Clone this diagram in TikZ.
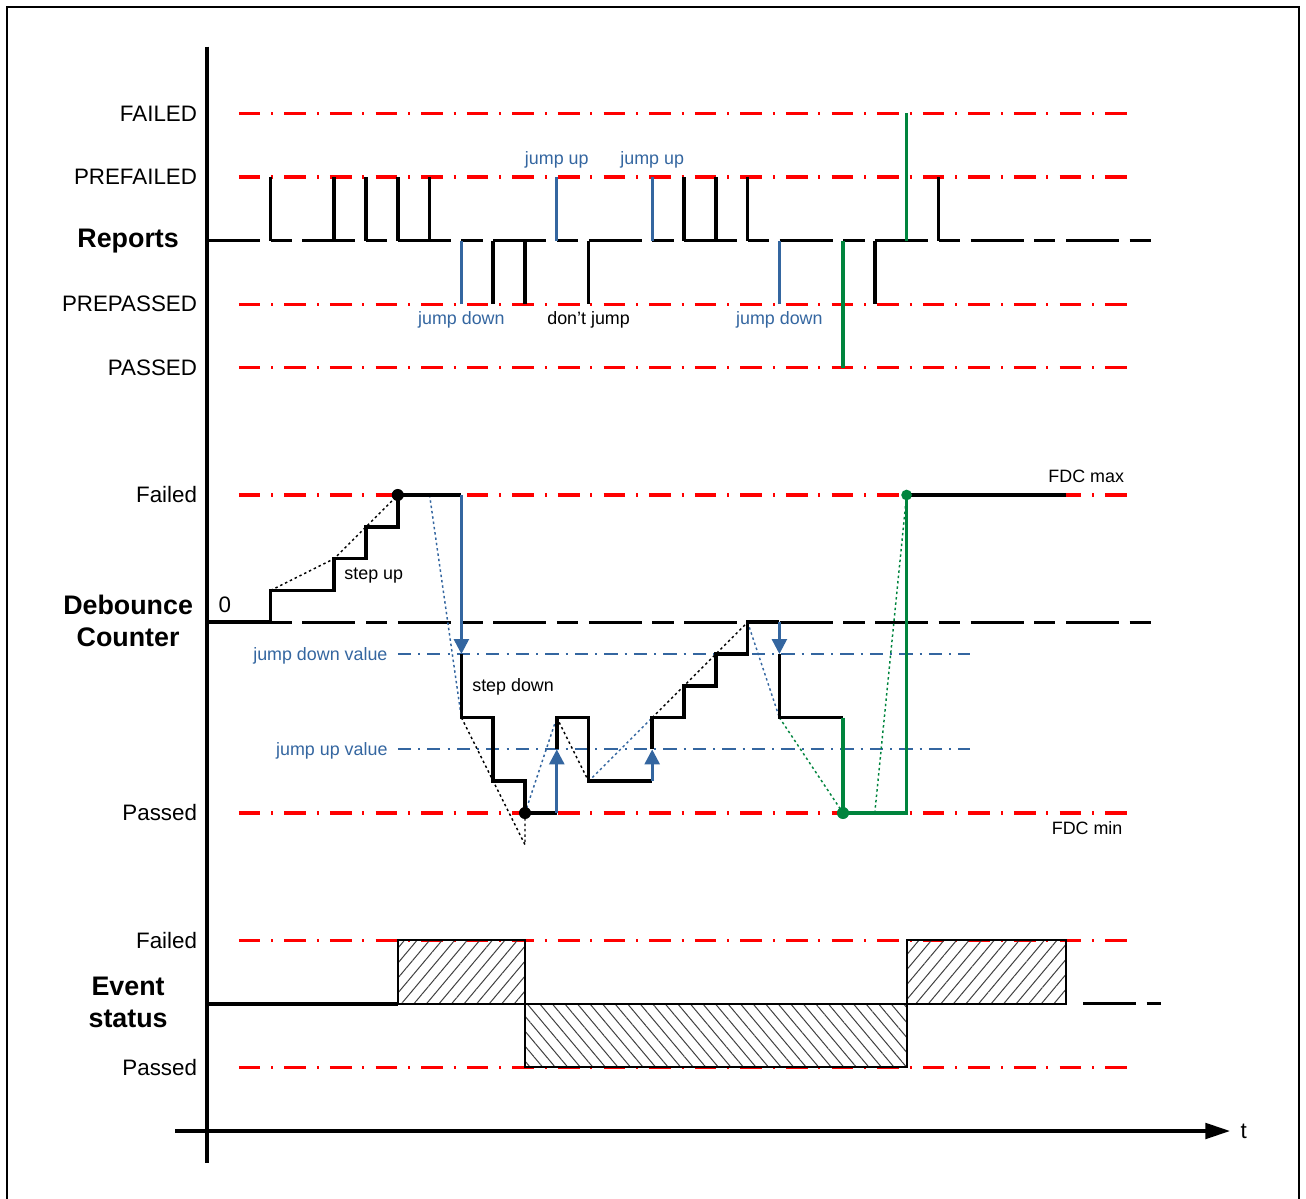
\documentclass[tikz,border=0pt]{standalone}
\usepackage{fontspec}
\setmainfont{Liberation Sans}
\usetikzlibrary{arrows.meta,patterns.meta}
\definecolor{sigblue}{RGB}{52,102,160}
\definecolor{siggreen}{RGB}{0,132,61}

\begin{document}
\begin{tikzpicture}[x=0.5cm,y=0.5cm,
  stateline/.style={red,line width=1.4pt,
    dash pattern=on 9.7pt off 4.8pt on 0.9pt off 5pt},
  midline/.style={line width=1.4pt,
    dash pattern=on 23.7pt off 4.75pt on 9.5pt off 4.75pt},
  jumpval/.style={sigblue,line width=0.9pt,
    dash pattern=on 5.9pt off 3.2pt on 0.9pt off 3.2pt},
  sig/.style={line width=1.6pt},
  bsig/.style={sigblue,line width=1.2pt},
  gsig/.style={siggreen,line width=1.4pt},
  jumparrow/.style={bsig,-{Triangle[length=6.7pt,width=6.7pt]}},
  trend/.style={line width=0.65pt,dash pattern=on 1.1pt off 1.3pt},
  statelbl/.style={anchor=east,inner sep=0pt,font=\fontsize{10}{12}\selectfont},
  grouplbl/.style={anchor=base,align=center,inner sep=0pt,
    font=\fontsize{12}{14.6}\selectfont\bfseries},
  note/.style={inner sep=0pt,font=\fontsize{8}{10}\selectfont},
  fdcdot/.style={circle,fill,inner sep=0pt,minimum size=5.4pt},
  hatchup/.style={draw,line width=0.9pt,pattern color=black!75,
    pattern={Lines[angle=50,distance=4.3pt,line width=0.45pt]}},
  hatchdown/.style={draw,line width=0.9pt,pattern color=black!75,
    pattern={Lines[angle=-50,distance=4.3pt,line width=0.45pt]}}]
\useasboundingbox (-6.509,-2.107) rectangle (34.56,35.566);
\draw[line width=0.8pt] (-6.29,-3) rectangle (34.34,35.35);

\foreach \y in {32,30,26,24,20,10,6,2}
  \draw[stateline] (1,\y) -- (29,\y);
\draw[midline] (0,28) -- (30,28);
\draw[midline] (0,16) -- (30,16);
\draw[midline] (27.55,4) -- (30,4);
\draw[jumpval] (6,15) -- (24,15);
\draw[jumpval] (6,12.02) -- (24,12.02);

\draw[line width=1.4pt] (0,34.1) -- (0,-1);
\draw[line width=1.4pt,-{Triangle[length=11pt,width=7pt]}] (-1,0) -- (32.17,0);
\node[note,font=\fontsize{10}{12}\selectfont] (t) at (32.6,0) {t};

\node[statelbl] (rfailed) at (-0.3,32) {FAILED};
\node[statelbl] (rprefailed) at (-0.3,30) {PREFAILED};
\node[statelbl] (rprepassed) at (-0.3,26) {PREPASSED};
\node[statelbl] (rpassed) at (-0.3,24) {PASSED};
\node[statelbl] (dfailed) at (-0.3,20) {Failed};
\node[statelbl] (dpassed) at (-0.3,10) {Passed};
\node[statelbl] (efailed) at (-0.3,6) {Failed};
\node[statelbl] (epassed) at (-0.3,2) {Passed};
\node[grouplbl] (reports) at (-2.48,27.77) {Reports};
\node[grouplbl] (debounce) at (-2.48,15.23) {Debounce\\Counter};
\node[grouplbl] (event) at (-2.48,3.24) {Event\\status};

\foreach \x in {2,4,5,6,7,15,16,17,23}
  \draw[sig] (\x,28) -- (\x,30);
\foreach \x in {9,10,12,21}
  \draw[sig] (\x,28) -- (\x,26);
\draw[bsig] (8,28) -- (8,26);
\draw[bsig] (11,28) -- (11,30);
\draw[bsig] (14,28) -- (14,30);
\draw[bsig] (18,28) -- (18,26);
\draw[gsig] (20,28) -- (20,24);
\draw[gsig] (22,28) -- (22,32);
\node[note,text=sigblue,anchor=base] (jumpup1) at (11,30.38) {jump up};
\node[note,text=sigblue,anchor=base] (jumpup2) at (14,30.38) {jump up};
\node[note,text=sigblue,anchor=base] (jumpdown1) at (8,25.35) {jump down};
\node[note,anchor=base] (nojump) at (12,25.35) {don't jump};
\node[note,text=sigblue,anchor=base] (jumpdown2) at (18,25.35) {jump down};

\draw[trend] (2,17) -- (4,18) -- (6,20);
\draw[trend,sigblue] (7,20) -- (8,13);
\draw[trend] (8,13) -- (10,9) -- (10,10);
\draw[trend,sigblue] (10,10) -- (11,13);
\draw[trend] (11,13) -- (12,11);
\draw[trend,sigblue] (12,11) -- (14,13);
\draw[trend] (14,13) -- (17,16);
\draw[trend,sigblue] (17,16) -- (18,13);
\draw[trend,siggreen] (18,13) -- (20,10);
\draw[trend,siggreen] (21,10) -- (22,20);

\draw[sig] (0,16) -- (2,16) -- (2,17) -- (4,17) -- (4,18) -- (5,18)
  -- (5,19) -- (6,19) -- (6,20) -- (8,20);
\draw[jumparrow] (8,20) -- (8,15);
\draw[sig] (8,15) -- (8,13) -- (9,13) -- (9,11) -- (10,11) -- (10,10) -- (11,10);
\draw[jumparrow] (11,10) -- (11,12);
\draw[sig] (11,12) -- (11,13) -- (12,13) -- (12,11) -- (14,11);
\draw[jumparrow] (14,11) -- (14,12);
\draw[sig] (14,12) -- (14,13) -- (15,13) -- (15,14) -- (16,14) -- (16,15)
  -- (17,15) -- (17,16) -- (18,16);
\draw[jumparrow] (18,16) -- (18,15);
\draw[sig] (18,15) -- (18,13) -- (20,13);
\draw[gsig,line width=1.6pt] (20,13) -- (20,10) -- (22,10) -- (22,20);
\draw[sig] (22,20) -- (27,20);
\node[fdcdot] (max1) at (6,20) {};
\node[fdcdot] (min1) at (10,10) {};
\node[fdcdot,siggreen] (min2) at (20,10) {};
\node[fdcdot,siggreen,minimum size=4.8pt] (max2) at (22,20) {};

\node[note,anchor=base west] (zero) at (0.35,16.3) {\fontsize{10}{12}\selectfont 0};
\node[note,anchor=base west] (stepup) at (4.31,17.33) {step up};
\node[note,anchor=base west] (stepdown) at (8.33,13.81) {step down};
\node[note,text=sigblue,anchor=base east] (jdvalue) at (5.69,14.81) {jump down value};
\node[note,text=sigblue,anchor=base east] (juvalue) at (5.69,11.82) {jump up value};
\node[note,anchor=base east] (fdcmax) at (28.85,20.38) {FDC max};
\node[note,anchor=base east] (fdcmin) at (28.8,9.31) {FDC min};

\draw[sig] (0,4) -- (6,4);
\draw[hatchup] (6,4) rectangle (10,6);
\draw[hatchdown] (10,2) rectangle (22,4);
\draw[hatchup] (22,4) rectangle (27,6);
\end{tikzpicture}
\end{document}
